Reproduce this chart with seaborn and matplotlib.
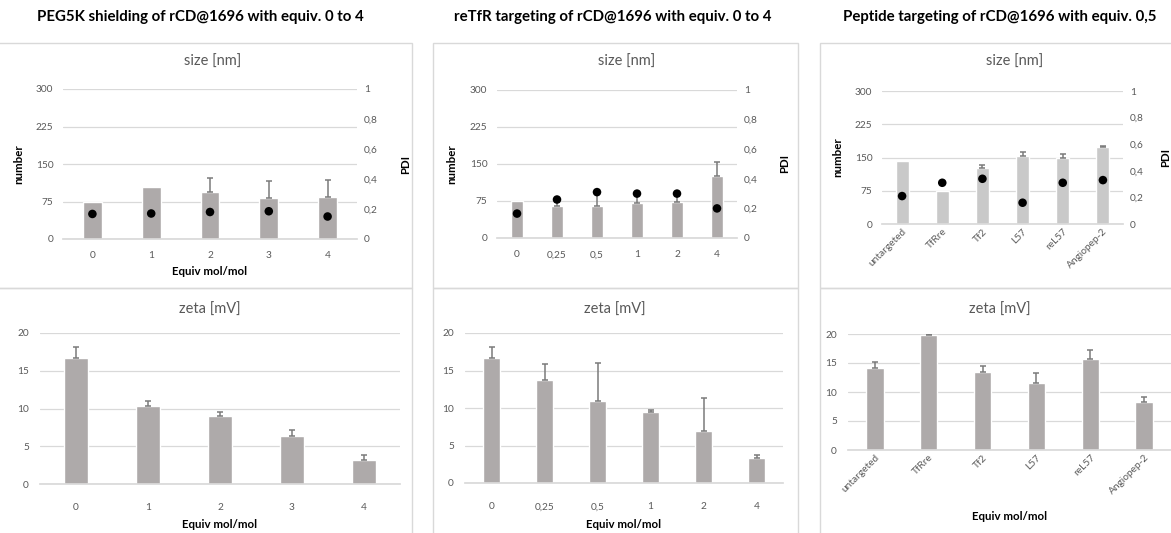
import numpy as np
import pandas as pd
import matplotlib
matplotlib.use('Agg')
import matplotlib.pyplot as plt
import seaborn as sns
from matplotlib.patches import Rectangle

# values
peg_equiv = ['0', '1', '2', '3', '4']
peg_size = [75, 104, 95, 83, 85]
peg_size_err = [0, 0, 28, 34, 33]
peg_pdi = [0.167, 0.17, 0.18, 0.185, 0.15]
peg_zeta = [16.7, 10.3, 9.0, 6.4, 3.2]
peg_zeta_err = [1.4, 0.7, 0.6, 0.7, 0.7]

tfr_equiv = ['0', '0,25', '0,5', '1', '2', '4']
tfr_size = [75, 65, 65, 70, 72, 125]
tfr_size_err = [0, 8, 27, 17, 13, 30]
tfr_pdi = [0.165, 0.26, 0.31, 0.30, 0.30, 0.20]
tfr_zeta = [16.7, 13.8, 11.0, 9.5, 7.0, 3.3]
tfr_zeta_err = [1.4, 2.1, 5.0, 0.2, 4.3, 0.5]

pep_names = ['untargeted', 'TfRre', 'Tf2', 'L57', 'reL57', 'Angiopep-2']
pep_size = [141, 75, 126, 153, 150, 174]
pep_size_err = [0, 0, 8, 10, 8, 3]
pep_pdi = [0.21, 0.31, 0.34, 0.16, 0.31, 0.33]
pep_zeta = [14.2, 19.8, 13.4, 11.5, 15.7, 8.3]
pep_zeta_err = [1.0, 0.2, 1.0, 1.7, 1.5, 0.9]

headers = ['PEG5K shielding of rCD@1696 with equiv. 0 to 4',
           'reTfR targeting of rCD@1696 with equiv. 0 to 4',
           'Peptide targeting of rCD@1696 with equiv. 0,5']

sns.set_theme(style='white')
plt.rcParams['font.family'] = ['Lato', 'DejaVu Sans']

W, H = 1171, 533
fig = plt.figure(figsize=(W / 100, H / 100), dpi=100)

bar_dark = '#aeaaaa'
bar_light = '#c9c9c9'
grid_c = '#d9d9d9'
text_c = '#595959'
err_c = '#7a7a7a'


def px_axes(l, t, r, b):
    return fig.add_axes([l / W, 1 - b / H, (r - l) / W, (b - t) / H])


def style(ax, ypad):
    for s in ['top', 'left', 'right']:
        ax.spines[s].set_visible(False)
    ax.spines['bottom'].set_color(grid_c)
    ax.grid(axis='y', color=grid_c, lw=0.9)
    ax.set_axisbelow(True)
    ax.tick_params(length=0, labelsize=7.3, labelcolor=text_c)
    ax.tick_params(axis='y', pad=ypad)


def bars(ax, cats, vals, err, color):
    df = pd.DataFrame({'cat': cats, 'val': vals})
    sns.barplot(data=df, x='cat', y='val', color=color, saturation=1,
                width=0.32, ax=ax, errorbar=None)
    # one-sided error bars, only where an error was shown
    idx = np.flatnonzero(np.array(err) > 0)
    v = np.array(vals, dtype=float)[idx]
    e = np.array(err, dtype=float)[idx]
    ax.errorbar(idx, v, yerr=[np.zeros(len(e)), e], fmt='none', ecolor=err_c,
                elinewidth=1.1, capsize=2.5, capthick=1.1)
    ax.set_xlim(-0.5, len(cats) - 0.5)
    ax.set_xlabel('')
    ax.set_ylabel('')


def add_xlabel(ax, box, label_top):
    l, t, r, b = box
    ax.set_xlabel('Equiv mol/mol', fontsize=8.3, fontweight='bold', color='black')
    ax.xaxis.set_label_coords(0.5, -(label_top - b) / (b - t))


def rotate(ax, rot, pad):
    if rot:
        ax.tick_params(axis='x', pad=2)
        plt.setp(ax.get_xticklabels(), rotation=rot, ha='right', rotation_mode='anchor')
    else:
        ax.tick_params(axis='x', pad=pad)


def size_panel(box, cats, size, err, pdi, color, num_x, pdi_x, label_top=None, rot=0):
    l, t, r, b = box
    ax = px_axes(l, t, r, b)
    bars(ax, cats, size, err, color)
    ax.set_ylim(0, 300)
    ax.set_yticks([0, 75, 150, 225, 300])
    style(ax, 7)
    ax2 = ax.twinx()
    sns.scatterplot(x=np.arange(len(cats)), y=pdi, color='black', s=38,
                    edgecolor='none', ax=ax2, zorder=5)
    ax2.set_xlim(-0.5, len(cats) - 0.5)
    ax2.set_ylim(0, 1)
    ticks = np.arange(0, 1.01, 0.2)
    ax2.set_yticks(ticks)
    ax2.set_yticklabels([('%g' % v).replace('.', ',') for v in ticks])
    for s in ax2.spines.values():
        s.set_visible(False)
    ax2.tick_params(length=0, labelsize=7.3, labelcolor=text_c, pad=5)
    ax.set_ylabel('number', fontsize=8.3, fontweight='bold', color='black')
    ax.yaxis.set_label_coords((num_x - l) / (r - l), 0.5)
    ax2.set_ylabel('PDI', fontsize=8.3, fontweight='bold', color='black')
    ax2.yaxis.set_label_coords((pdi_x - l) / (r - l), 0.5)
    rotate(ax, rot, 9)
    if label_top:
        add_xlabel(ax, box, label_top)
    return ax


def zeta_panel(box, cats, zeta, err, label_top, rot=0):
    l, t, r, b = box
    ax = px_axes(l, t, r, b)
    bars(ax, cats, zeta, err, bar_dark)
    ax.set_ylim(0, 20)
    ax.set_yticks([0, 5, 10, 15, 20])
    style(ax, 8)
    rotate(ax, rot, 14)
    add_xlabel(ax, box, label_top)
    return ax


# chart area frames
frames = [(-5, 43, 412, 288), (-5, 288, 412, 540),
          (433, 43, 798, 288), (433, 288, 798, 540),
          (820, 43, 1180, 288), (820, 288, 1180, 540)]
for l, t, r, b in frames:
    fig.add_artist(Rectangle((l / W, 1 - b / H), (r - l) / W, (b - t) / H,
                             transform=fig.transFigure, fill=False,
                             edgecolor=grid_c, lw=1))

size_panel((63, 89, 357, 239), peg_equiv, peg_size, peg_size_err, peg_pdi,
           bar_dark, 24, 400, label_top=266)
size_panel((497, 90, 737, 238), tfr_equiv, tfr_size, tfr_size_err, tfr_pdi,
           bar_dark, 457, 779)
size_panel((882, 91, 1123, 224), pep_names, pep_size, pep_size_err, pep_pdi,
           bar_light, 843, 1160, rot=45)

zeta_panel((40, 333, 400, 484), peg_equiv, peg_zeta, peg_zeta_err, 519)
zeta_panel((465, 333, 783, 483), tfr_equiv, tfr_zeta, tfr_zeta_err, 519)
zeta_panel((848, 334, 1171, 450), pep_names, pep_zeta, pep_zeta_err, 511, rot=45)

for x, txt in zip([200, 613, 1000], headers):
    fig.text(x / W, 1 - 17 / H, txt, ha='center', va='center',
             fontsize=10.8, fontweight='bold', color='black')

for x in [213, 627, 1015]:
    fig.text(x / W, 1 - 62 / H, 'size [nm]', ha='center', va='center',
             fontsize=10.5, color=text_c)
for x in [210, 615, 1000]:
    fig.text(x / W, 1 - 310 / H, 'zeta [mV]', ha='center', va='center',
             fontsize=10.5, color=text_c)

fig.savefig('out.png', dpi=100, facecolor='white')
